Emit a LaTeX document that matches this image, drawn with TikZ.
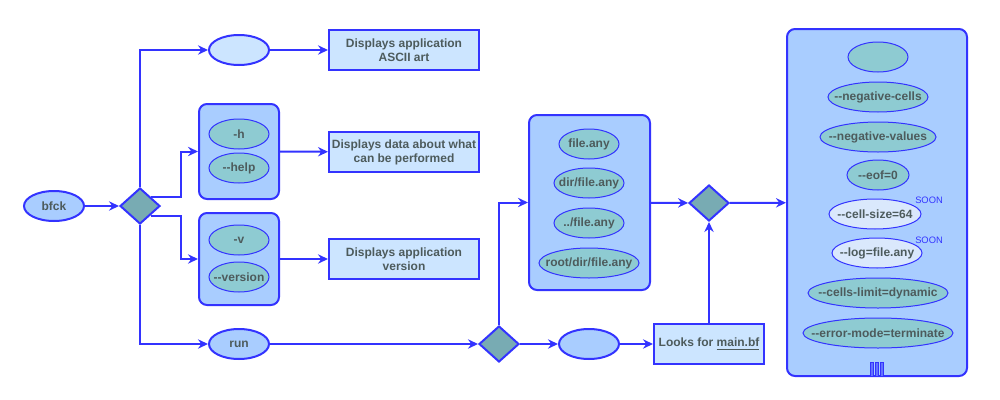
\documentclass[tikz,border=0pt]{standalone}
\usepackage{fontspec}
\setmainfont{Liberation Sans}
\usetikzlibrary{shapes.geometric,arrows.meta,calc}
\definecolor{strk}{HTML}{3333FF}
\definecolor{boxf}{HTML}{CCE5FF}
\definecolor{grpf}{HTML}{A9CDFF}
\definecolor{innf}{HTML}{8ECBD2}
\definecolor{dmf}{HTML}{78ABB3}
\definecolor{lite}{HTML}{DAE8FC}
\definecolor{txt}{HTML}{4D5B5C}
\newcommand\zb[1]{\makebox[0pt]{#1}}
\tikzset{
  every node/.style={font=\fontsize{9}{10.5}\selectfont\bfseries, text=txt, inner sep=0pt},
  mainell/.style={ellipse, draw=strk, line width=1.5pt, fill=grpf, minimum width=45pt, minimum height=22.5pt},
  inell/.style={ellipse, draw=strk, line width=0.75pt, fill=innf, minimum height=22.5pt},
  liteell/.style={ellipse, draw=strk, line width=0.75pt, fill=lite, minimum height=22.5pt},
  infobox/.style={rectangle, draw=strk, line width=1.5pt, fill=boxf, minimum width=112.5pt, minimum height=30pt, align=center},
  grp/.style={rectangle, rounded corners=6pt, draw=strk, line width=1.5pt, fill=grpf},
  dia/.style={diamond, draw=strk, line width=1.5pt, fill=dmf, minimum width=30pt, minimum height=27pt},
  arr/.style={draw=strk, line width=1.5pt, -{Stealth[length=7.5pt,width=7pt,inset=2.5pt]}},
  soon/.style={font=\fontsize{7}{8}\selectfont, text=strk}
}
\begin{document}
\begin{tikzpicture}[x=0.75pt,y=-0.75pt]
\useasboundingbox (0,0) rectangle (1000,400);
% nodes
\node[mainell] (bfck) at (54,206) {\zb{bfck}};
\node[dia] (d1) at (140,206) {};
\node[mainell, fill=boxf] (e0) at (239,50) {};
\node[infobox] (b1) at (404,50) {Displays application\\ASCII art};
\node[grp, minimum width=60pt, minimum height=71.25pt] (gh) at (239,151.5) {};
\node[inell, minimum width=45pt] (h1) at (239,134) {\zb{-h}};
\node[inell, minimum width=45pt] (h2) at (239,168) {\zb{-{}-help}};
\node[infobox] (b2) at (404,152) {Displays data about what\\can be performed};
\node[grp, minimum width=60pt, minimum height=69pt] (gv) at (239,259) {};
\node[inell, minimum width=45pt] (v1) at (239,240) {\zb{-v}};
\node[inell, minimum width=45pt] (v2) at (239,277) {\zb{-{}-version}};
\node[infobox] (b3) at (404,259) {Displays application\\version};
\node[mainell] (run) at (239,344) {\zb{run}};
\node[dia] (d2) at (499,344) {};
\node[mainell] (e2) at (589,344) {};
\node[infobox, minimum width=82.5pt] (look) at (709,344) {Looks for \underline{main.bf}};
\node[grp, minimum width=90.75pt, minimum height=131.25pt] (gf) at (589.5,202.5) {};
\node[inell, minimum width=45pt] (f1) at (589,144) {\zb{file.any}};
\node[inell, minimum width=52.5pt] (f2) at (589,183) {\zb{dir/file.any}};
\node[inell, minimum width=52.5pt] (f3) at (589,223) {\zb{../file.any}};
\node[inell, minimum width=75pt] (f4) at (589,263) {\zb{root/dir/file.any}};
\node[dia] (d3) at (709,203) {};
\node[grp, minimum width=135pt, minimum height=260.25pt] (gb) at (877,202.5) {};
\node[inell, minimum width=45pt] (o0) at (878,57) {};
\node[inell, minimum width=75pt] (o1) at (878,97) {\zb{-{}-negative-cells}};
\node[inell, minimum width=87pt] (o2) at (878,137) {\zb{-{}-negative-values}};
\node[inell, minimum width=46.5pt] (o3) at (878,175) {\zb{-{}-eof=0}};
\node[liteell, minimum width=69pt] (o4) at (875,214) {\zb{-{}-cell-size=64}};
\node[soon] (s1) at (929,200) {SOON};
\node[liteell, minimum width=67.5pt] (o5) at (877,253) {\zb{-{}-log=file.any}};
\node[soon] (s2) at (929,240) {SOON};
\node[inell, minimum width=105pt] (o6) at (878,293) {\zb{-{}-cells-limit=dynamic}};
\node[inell, minimum width=112.5pt] (o7) at (878,333) {\zb{-{}-error-mode=terminate}};
\foreach \xx in {872,877,882}{
  \draw[draw=strk, line width=0.75pt, fill=strk!60!grpf] (\xx-1.2,362) rectangle (\xx+1.2,376);
}
% connectors
\draw[arr] (bfck) -- (d1);
\draw[arr] (d1.north) |- (e0.west);
\draw[arr] (d1.north east) -- ++(30,0) |- (gh.west);
\draw[arr] (d1.south east) -- ++(30,0) |- (gv.west);
\draw[arr] (d1.south) |- (run.west);
\draw[arr] (e0) -- (b1);
\draw[arr] (gh) -- (b2);
\draw[arr] (gv) -- (b3);
\draw[arr] (run) -- (d2);
\draw[arr] (d2.north) |- (gf.west);
\draw[arr] (d2) -- (e2);
\draw[arr] (e2) -- (look);
\draw[arr] (look) -- (d3);
\draw[arr] (gf) -- (d3);
\draw[arr] (d3) -- (gb);
\end{tikzpicture}
\end{document}
